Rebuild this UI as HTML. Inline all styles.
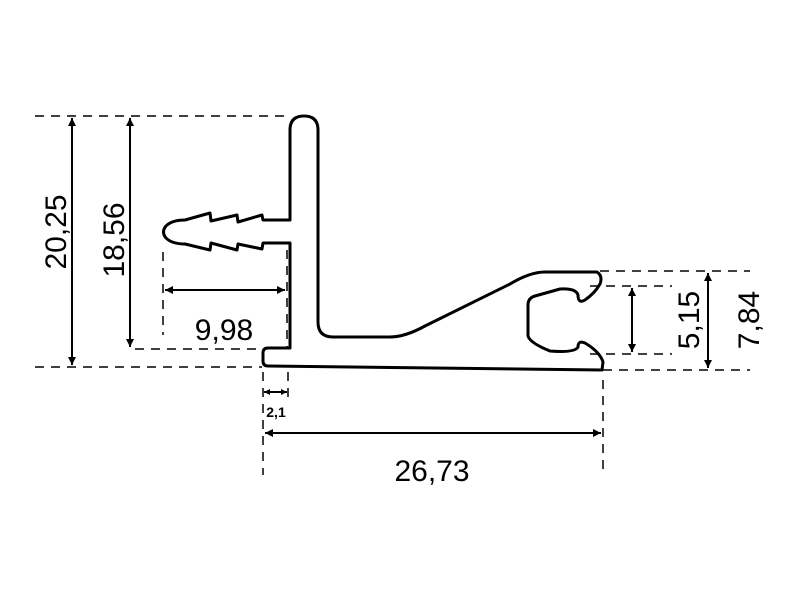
<!DOCTYPE html>
<html><head><meta charset="utf-8"><style>
html,body{margin:0;padding:0;background:#fff;}
svg{display:block;}
text{font-family:"Liberation Sans",sans-serif;fill:#000;}
</style></head><body>
<svg width="800" height="600" viewBox="0 0 800 600" xmlns="http://www.w3.org/2000/svg">
<defs>
<marker id="a" viewBox="0 0 10 10" refX="10" refY="5" markerWidth="6" markerHeight="6" orient="auto-start-reverse" markerUnits="userSpaceOnUse"><path d="M0,0 L10,5 L0,10 z" fill="#000"/></marker>
<marker id="b" viewBox="0 0 10 10" refX="10" refY="5" markerWidth="12" markerHeight="8" orient="auto-start-reverse" markerUnits="userSpaceOnUse"><path d="M0,0 L10,5 L0,10 z" fill="#000"/></marker>
</defs>
<!-- dashed lines -->
<g stroke="#000" stroke-width="1.5" stroke-dasharray="9,7" fill="none">
<line x1="35" y1="116" x2="286" y2="116"/>
<line x1="35" y1="367" x2="262" y2="367"/>
<line x1="135" y1="349" x2="262" y2="349"/>
<line x1="163" y1="252" x2="163" y2="335"/>
<line x1="287" y1="250" x2="287" y2="349"/>
<line x1="263" y1="372" x2="263" y2="475"/>
<line x1="288" y1="372" x2="288" y2="400"/>
<line x1="603" y1="380" x2="603" y2="475"/>
<line x1="600" y1="271" x2="750" y2="271"/>
<line x1="590" y1="286" x2="672" y2="286"/>
<line x1="590" y1="354" x2="672" y2="354"/>
<line x1="603" y1="370" x2="750" y2="370"/>
</g>
<!-- dimension arrows -->
<g stroke="#000" stroke-width="2" fill="none">
<line x1="72" y1="118" x2="72" y2="365" marker-start="url(#b)" marker-end="url(#b)"/>
<line x1="130" y1="118" x2="130" y2="347" marker-start="url(#b)" marker-end="url(#b)"/>
<line x1="165" y1="290" x2="285" y2="290" marker-start="url(#b)" marker-end="url(#b)"/>
<line x1="264" y1="392" x2="287" y2="392" marker-start="url(#a)" marker-end="url(#a)"/>
<line x1="265" y1="433" x2="601" y2="433" marker-start="url(#b)" marker-end="url(#b)"/>
<line x1="632" y1="288" x2="632" y2="352" marker-start="url(#b)" marker-end="url(#b)"/>
<line x1="708" y1="273" x2="708" y2="368" marker-start="url(#b)" marker-end="url(#b)"/>
</g>
<!-- profile -->
<path fill="none" stroke="#000" stroke-width="3" stroke-linejoin="round" d="
M290,243 L263,243 L262,249 L238,244 L237,250 L211,243 L210,250 L185,244
Q172,244 166,238 Q161,232 166,226 Q172,220 185,220
L210,213 L211,221 L237,215 L238,222 L262,215 L263,220 L290,220
L290,130 Q290,116 304,116 Q318,116 318,130
L318,322 Q318,337 333,337 L390,337 Q405,337 425,326 L510,284 Q530,272 545,272 L597,272
Q603,276 600,284 Q595,293 585,300 Q578,304 578,295 Q576,288 560,289 L535,296 Q528,298 528,305 L528,336 Q530,343 550,351 Q575,353 578,347 Q578,340 585,343 Q600,352 603,362 L602,370
L268,366 Q263,366 263,361 L263,353 Q263,348 268,348 L290,348 Z"/>
<!-- labels -->
<text x="0" y="0" font-size="30" text-anchor="middle" transform="translate(66,232) rotate(-90)">20,25</text>
<text x="0" y="0" font-size="30" text-anchor="middle" transform="translate(124,240) rotate(-90)">18,56</text>
<text x="224" y="340" font-size="30" text-anchor="middle">9,98</text>
<text x="276" y="417" font-size="14" font-weight="bold" text-anchor="middle">2,1</text>
<text x="432" y="481" font-size="30" text-anchor="middle">26,73</text>
<text x="0" y="0" font-size="30" text-anchor="middle" transform="translate(699,320) rotate(-90)">5,15</text>
<text x="0" y="0" font-size="30" text-anchor="middle" transform="translate(759,320) rotate(-90)">7,84</text>
</svg>
</body></html>
